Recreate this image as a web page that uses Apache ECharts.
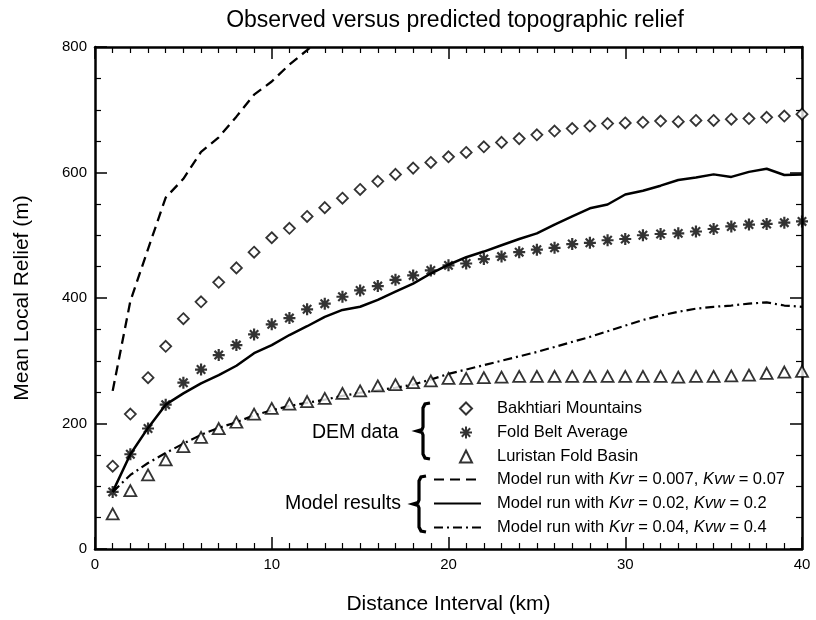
<!DOCTYPE html>
<html>
<head>
<meta charset="utf-8">
<script src="https://cdn.jsdelivr.net/npm/echarts@6/dist/echarts.min.js"></script>
<style>
  html, body { margin: 0; padding: 0; background: #fff; }
  #chart { width: 816px; height: 620px; }
</style>
</head>
<body>
<div id="chart"></div>
<script>
// distance interval (km)
const distance = [1, 2, 3, 4, 5, 6, 7, 8, 9, 10, 11, 12, 13, 14, 15, 16, 17, 18, 19, 20,
  21, 22, 23, 24, 25, 26, 27, 28, 29, 30, 31, 32, 33, 34, 35, 36, 37, 38, 39, 40];

// DEM data
const bakhtiari = [132, 215, 273, 323, 367, 394, 425, 448, 473, 496, 511, 530, 544, 559, 573, 586, 597, 607, 616, 625,
  632, 641, 648, 654, 660, 666, 670, 674, 678, 679, 680, 682, 681, 683, 683, 685, 686, 688, 690, 693];
const foldBelt = [91, 151, 192, 230, 265, 286, 309, 325, 342, 358, 368, 382, 391, 402, 412, 419, 429, 436, 444, 452,
  455, 462, 466, 473, 477, 480, 486, 488, 492, 494, 500, 502, 503, 506, 510, 514, 517, 518, 520, 522];
const luristan = [56, 93, 118, 142, 163, 178, 192, 202, 215, 224, 231, 235, 240, 248, 252, 260, 262, 265, 268, 272,
  272, 273, 274, 275, 275, 275, 275, 275, 275, 275, 275, 275, 274, 275, 275, 276, 277, 280, 282, 283];

// model results
const modelA = [252, 395, 478, 560, 590, 633, 656, 689, 724, 745, 772, 795, 820];
const modelB = [91, 151, 193, 230, 248, 264, 277, 292, 312, 325, 341, 355, 370, 381, 386, 397, 410, 423, 439, 453,
  465, 474, 484, 494, 503, 517, 530, 543, 549, 565, 571, 579, 588, 592, 597, 593, 601, 606, 596, 597];
const modelC = [91, 118, 137, 153, 168, 182, 193, 202, 213, 221, 228, 233, 238, 244, 249, 253, 257, 262, 270, 279,
  286, 293, 300, 307, 314, 322, 330, 338, 347, 356, 365, 372, 378, 383, 386, 388, 391, 393, 388, 386];

const demNames = ["Bakhtiari Mountains", "Fold Belt Average", "Luristan Fold Basin"];
const modelNames = [
  "Model run with Kvr = 0.007, Kvw = 0.07",
  "Model run with Kvr = 0.02, Kvw = 0.2",
  "Model run with Kvr = 0.04, Kvw = 0.4",
];
const modelLabels = {
  [modelNames[0]]: "Model run with {i|Kvr} = 0.007, {i|Kvw} = 0.07",
  [modelNames[1]]: "Model run with {i|Kvr} = 0.02, {i|Kvw} = 0.2",
  [modelNames[2]]: "Model run with {i|Kvr} = 0.04, {i|Kvw} = 0.4",
};

const FONT = "'Liberation Sans', Arial, Helvetica, sans-serif";
const asterisk = "path://M0 5L10 5M5 0L5 10M1.5 1.5L8.5 8.5M8.5 1.5L1.5 8.5";

function pairs(values) {
  return values.map((v, i) => [distance[i], v]);
}

// curly brace drawn as a polyline, opening to the right
function brace(x, y, h) {
  const m = h / 2;
  return {
    type: "polyline",
    x: x,
    y: y,
    shape: {
      points: [[7, 0], [2, 1], [0, 5], [0, m - 4], [-1, m - 1.5], [-6, m], [-1, m + 1.5], [0, m + 4],
        [0, h - 5], [2, h - 1], [7, h]],
    },
    style: { fill: null, stroke: "#000", lineWidth: 3.2 },
  };
}

const axisCommon = {
  type: "value",
  axisLine: { show: true, onZero: false, lineStyle: { color: "#000", width: 2.5 } },
  axisTick: { show: true, inside: true, length: 12, lineStyle: { color: "#000", width: 1.5 } },
  minorTick: { show: true, length: 6, lineStyle: { color: "#000", width: 1.2 } },
  splitLine: { show: false },
  axisLabel: { color: "#000", fontSize: 15, fontFamily: FONT },
};

const chart = echarts.init(document.getElementById("chart"));

const option = {
  backgroundColor: "#fff",
  animation: false,
  title: {
    text: "Observed versus predicted topographic relief",
    left: 450,
    top: 4,
    textAlign: "center",
    textStyle: { color: "#000", fontSize: 23, fontWeight: "normal", fontFamily: FONT },
  },
  grid: { left: 95, right: 14, top: 47, bottom: 70 },
  xAxis: [
    {
      ...axisCommon,
      min: 0,
      max: 40,
      interval: 10,
      minorTick: { ...axisCommon.minorTick, splitNumber: 10 },
      axisLabel: { ...axisCommon.axisLabel, margin: 8 },
      name: "Distance Interval (km)",
      nameLocation: "middle",
      nameGap: 45,
      nameTextStyle: { color: "#000", fontSize: 21, fontFamily: FONT },
    },
    {
      ...axisCommon,
      position: "top",
      min: 0,
      max: 40,
      interval: 10,
      minorTick: { ...axisCommon.minorTick, splitNumber: 10 },
      axisLabel: { show: false },
    },
  ],
  yAxis: [
    {
      ...axisCommon,
      min: 0,
      max: 800,
      interval: 200,
      minorTick: { ...axisCommon.minorTick, splitNumber: 4 },
      axisLabel: { ...axisCommon.axisLabel, margin: 8 },
      name: "Mean Local Relief (m)",
      nameLocation: "middle",
      nameGap: 62,
      nameTextStyle: { color: "#000", fontSize: 21, fontFamily: FONT },
    },
    {
      ...axisCommon,
      position: "right",
      min: 0,
      max: 800,
      interval: 200,
      minorTick: { ...axisCommon.minorTick, splitNumber: 4 },
      axisLabel: { show: false },
    },
  ],
  legend: [
    {
      data: demNames,
      orient: "vertical",
      left: 454,
      top: 395,
      itemWidth: 12,
      itemHeight: 12,
      itemGap: 7,
      selectedMode: false,
      textStyle: { color: "#000", fontSize: 16.5, fontFamily: FONT, padding: [0, 0, 0, 20] },
    },
    {
      data: modelNames,
      orient: "vertical",
      left: 428,
      top: 466,
      itemWidth: 47,
      itemHeight: 12,
      itemGap: 7,
      selectedMode: false,
      itemStyle: { opacity: 0 },
      formatter: (name) => modelLabels[name],
      textStyle: {
        color: "#000",
        fontSize: 16.5,
        fontFamily: FONT,
        padding: [0, 0, 0, 11],
        rich: { i: { fontStyle: "italic", fontSize: 16.5, fontFamily: FONT, color: "#000" } },
      },
    },
  ],
  graphic: [
    {
      type: "text",
      left: 312,
      top: 423,
      style: { text: "DEM data", fontSize: 19.5, fontFamily: FONT, fill: "#000" },
    },
    brace(423, 403, 56),
    {
      type: "text",
      left: 285,
      top: 494,
      style: { text: "Model results", fontSize: 19.5, fontFamily: FONT, fill: "#000" },
    },
    brace(419, 476, 56),
  ],
  series: [
    {
      name: demNames[0],
      type: "scatter",
      symbol: "diamond",
      symbolSize: 11,
      itemStyle: { color: "#fff", borderColor: "#000", borderWidth: 1.8 },
      data: pairs(bakhtiari),
      z: 3,
    },
    {
      name: demNames[1],
      type: "scatter",
      symbol: asterisk,
      symbolSize: 12,
      itemStyle: { color: "#000", borderColor: "#000", borderWidth: 2.2 },
      data: pairs(foldBelt),
      z: 3,
    },
    {
      name: demNames[2],
      type: "scatter",
      symbol: "triangle",
      symbolSize: [12, 11],
      itemStyle: { color: "#fff", borderColor: "#000", borderWidth: 1.8 },
      data: pairs(luristan),
      z: 3,
    },
    {
      name: modelNames[0],
      type: "line",
      symbol: "none",
      itemStyle: { color: "#000" },
      lineStyle: { color: "#000", width: 2.3, type: [10, 6] },
      data: pairs(modelA),
      z: 2,
    },
    {
      name: modelNames[1],
      type: "line",
      symbol: "none",
      itemStyle: { color: "#000" },
      lineStyle: { color: "#000", width: 2.5 },
      data: pairs(modelB),
      z: 2,
    },
    {
      name: modelNames[2],
      type: "line",
      symbol: "none",
      itemStyle: { color: "#000" },
      lineStyle: { color: "#000", width: 2.2, type: [9, 4, 2, 4] },
      data: pairs(modelC),
      z: 2,
    },
  ],
};

chart.setOption(option);
</script>
</body>
</html>
